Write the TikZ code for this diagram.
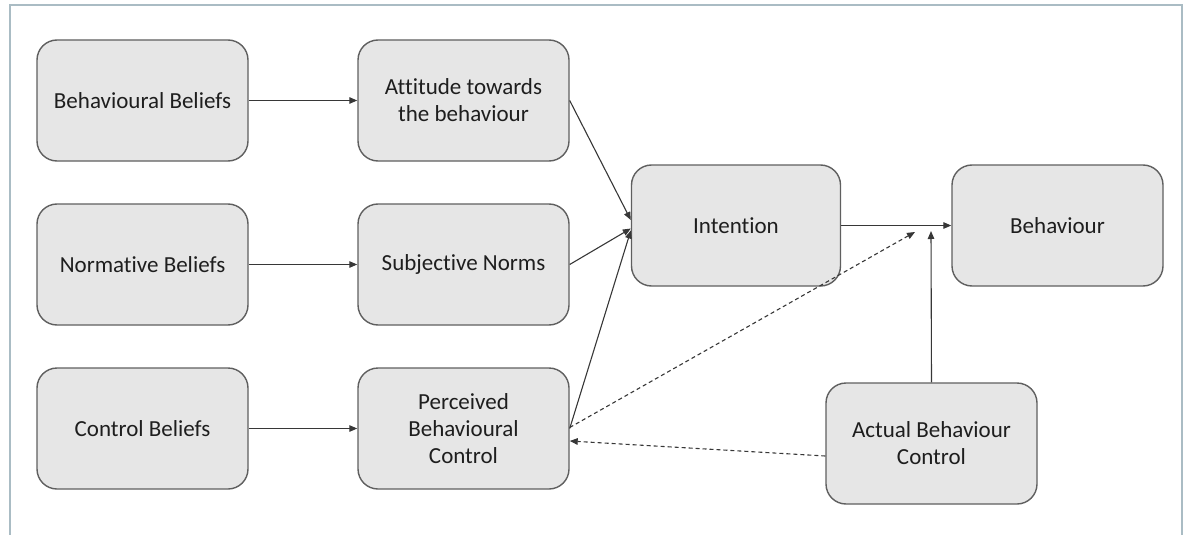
\documentclass[tikz,border=0pt]{standalone}
\usepackage{fontspec}
\setmainfont[Ligatures={NoCommon}]{Carlito}
\usetikzlibrary{arrows.meta}
\definecolor{boxfill}{RGB}{230,230,230}
\definecolor{boxdraw}{RGB}{95,95,95}
\definecolor{linecol}{RGB}{55,55,55}
\definecolor{framecol}{RGB}{170,188,196}
\definecolor{txtcol}{RGB}{30,30,30}
\begin{document}
\begin{tikzpicture}[x=1pt,y=-1pt,
  box/.style={draw=boxdraw,fill=boxfill,line width=1.4pt,rounded corners=20pt,
    minimum width=211pt,minimum height=121pt,inner sep=0pt,align=center,
    text=txtcol,font=\fontsize{23}{27}\selectfont},
  arr/.style={draw=linecol,line width=1.1pt,-{Triangle[length=8pt,width=6.5pt]}},
  darr/.style={arr,dash pattern=on 4pt off 3pt}]
\useasboundingbox (0,0) rectangle (1189,535);
\draw[framecol,line width=2pt] (10,535) -- (10,5) -- (1182,5) -- (1182,535);
\node[box] (bb) at (142.5,100.5) {Behavioural Beliefs};
\node[box] (nb) at (142.5,264.5) {Normative Beliefs};
\node[box] (cb) at (142.5,428.5) {Control Beliefs};
\node[box] (at) at (463.5,100.5) {Attitude towards\\the behaviour};
\node[box] (sn) at (463.5,264.5) {Subjective Norms};
\node[box] (pbc) at (463.5,428.5) {Perceived\\Behavioural\\Control};
\node[box,minimum width=209pt] (int) at (736,225.5) {Intention};
\node[box] (beh) at (1057.5,225.5) {Behaviour};
\node[box] (abc) at (931.5,443.5) {Actual Behaviour\\Control};
\coordinate (dend) at (915,232);
\coordinate (vend) at (931,231);
\draw[arr] (bb) -- (at);
\draw[arr] (nb) -- (sn);
\draw[arr] (cb) -- (pbc);
\draw[arr] (at.east) -- ([yshift=5.5pt]int.west);
\draw[arr] (sn.east) -- ([yshift=-3pt]int.west);
\draw[arr] (pbc.east) -- ([yshift=-5pt]int.west);
\draw[arr] (int) -- (beh);
\draw[darr] ([yshift=1pt]pbc.east) -- (dend);
\draw[arr] (abc.north) -- (vend);
\draw[darr] ([yshift=-12.5pt]abc.west) -- ([yshift=-12.5pt]pbc.east);
\end{tikzpicture}
\end{document}
